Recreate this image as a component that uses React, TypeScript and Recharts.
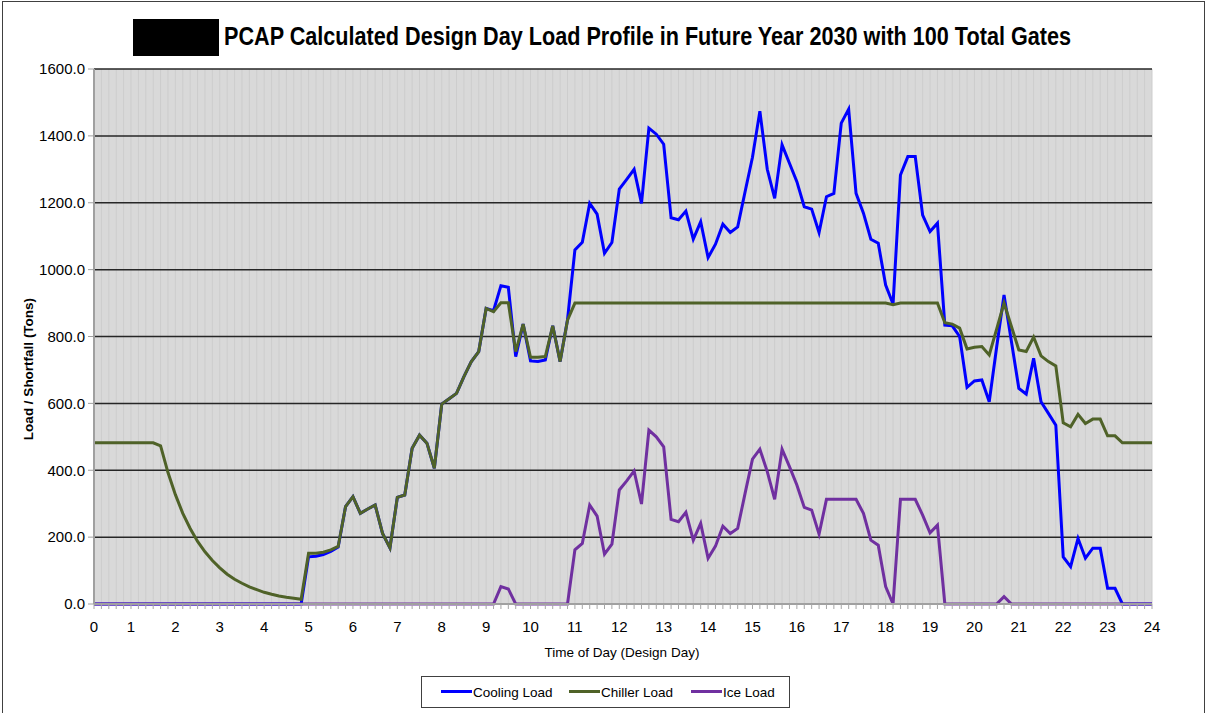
import { CartesianGrid, Line, LineChart, XAxis, YAxis } from "recharts";

// 10-minute steps across the design day (144 points)
const COOLING_LOAD = [
  0, 0, 0, 0, 0, 0,
  0, 0, 0, 0, 0, 0,
  0, 0, 0, 0, 0, 0,
  0, 0, 0, 0, 0, 0,
  0, 0, 0, 0, 0, 141,
  143, 148, 157, 170, 291, 321,
  271, 284, 296, 211, 168, 319,
  326, 466, 505, 481, 406, 598,
  614, 630, 680, 725, 755, 884,
  877, 952, 947, 740, 837, 727,
  725, 730, 832, 725, 850, 1059,
  1082, 1198, 1166, 1049, 1081, 1241,
  1270, 1300, 1198, 1423, 1405, 1375,
  1155, 1149, 1175, 1091, 1143, 1036,
  1076, 1136, 1111, 1128, 1233, 1336,
  1474, 1300, 1213, 1373, 1318, 1263,
  1188, 1181, 1111, 1218, 1228, 1438,
  1480, 1228, 1169, 1091, 1079, 954,
  897, 1283, 1338, 1338, 1163, 1114,
  1139, 834, 832, 800, 648, 667,
  670, 605, 768, 924, 785, 645,
  628, 735, 605, 570, 535, 141,
  112, 196, 137, 167, 167, 47,
  47, 0, 0, 0, 0, 0,
];

const CHILLER_LOAD = [
  482, 482, 482, 482, 482, 482,
  482, 482, 482, 473, 393, 327,
  271, 226, 187, 156, 130, 108,
  89, 74, 62, 51, 43, 35,
  29, 24, 20, 17, 14, 152,
  152, 155, 162, 172, 291, 321,
  271, 284, 296, 211, 168, 319,
  326, 466, 505, 481, 406, 598,
  614, 630, 680, 725, 755, 884,
  874, 901, 901, 755, 837, 738,
  738, 740, 832, 725, 849, 900,
  900, 900, 900, 900, 900, 900,
  900, 900, 900, 900, 900, 900,
  900, 900, 900, 900, 900, 900,
  900, 900, 900, 900, 900, 900,
  900, 900, 900, 900, 900, 900,
  900, 900, 900, 900, 900, 900,
  900, 900, 900, 900, 900, 900,
  895, 900, 900, 900, 900, 900,
  900, 841, 837, 825, 763, 768,
  770, 745, 822, 900, 830, 760,
  755, 798, 742, 725, 712, 542,
  530, 567, 540, 553, 553, 503,
  503, 482, 482, 482, 482, 482,
];

const ICE_LOAD = [
  0, 0, 0, 0, 0, 0,
  0, 0, 0, 0, 0, 0,
  0, 0, 0, 0, 0, 0,
  0, 0, 0, 0, 0, 0,
  0, 0, 0, 0, 0, 0,
  0, 0, 0, 0, 0, 0,
  0, 0, 0, 0, 0, 0,
  0, 0, 0, 0, 0, 0,
  0, 0, 0, 0, 0, 0,
  0, 52, 45, 0, 0, 0,
  0, 0, 0, 0, 0, 162,
  181, 296, 263, 149, 179, 341,
  368, 398, 299, 520, 500, 470,
  253, 246, 274, 191, 241, 137,
  173, 233, 211, 226, 331, 433,
  463, 396, 313, 463, 411, 356,
  289, 281, 209, 313, 313, 313,
  313, 313, 271, 191, 176, 52,
  0, 313, 313, 313, 266, 213,
  236, 0, 0, 0, 0, 0,
  0, 0, 0, 22, 0, 0,
  0, 0, 0, 0, 0, 0,
  0, 0, 0, 0, 0, 0,
  0, 0, 0, 0, 0, 0,
];

const HOUR_LABELS = [
  "0", "1", "2", "3", "4", "5", "6", "7", "8", "9", "10", "11", "12",
  "13", "14", "15", "16", "17", "18", "19", "20", "21", "22", "23", "24",
];
// step index where each hour label sits on the category axis
const HOUR_TICK_STEPS = [
  0, 5, 11, 17, 23, 29, 35, 41, 47, 53, 59, 65, 71,
  77, 83, 89, 95, 101, 107, 113, 119, 125, 131, 137, 143,
];
const Y_TICKS = [0, 200, 400, 600, 800, 1000, 1200, 1400, 1600];

const TEXT_FONT = "'Liberation Sans', Arial, sans-serif";
const TITLE_FONT = "'Liberation Sans Narrow', 'Liberation Sans', Arial, sans-serif";

const COOLING_COLOR = "#0000ff";
const CHILLER_COLOR = "#4f6228";
const ICE_COLOR = "#7030a0";

const data = COOLING_LOAD.map((c, i) => ({
  step: i,
  cooling: c,
  chiller: CHILLER_LOAD[i],
  ice: ICE_LOAD[i],
}));
const allSteps = data.map((d) => d.step);
const labelByStep = new Map(HOUR_TICK_STEPS.map((s, i) => [s, HOUR_LABELS[i]]));

function StepTick(props: any) {
  const { x, y, payload } = props;
  const label = labelByStep.get(payload.value);
  return (
    <g>
      <line x1={x} x2={x} y1={y} y2={y + 5} stroke="#a6a6a6" strokeWidth={1} />
      {label !== undefined && (
        <text
          x={x}
          y={y + 28}
          textAnchor="middle"
          fill="#000"
          fontSize={15}
          fontFamily={TEXT_FONT}
        >
          {label}
        </text>
      )}
    </g>
  );
}

function LegendItem({ x, color, label }: { x: number; color: string; label: string }) {
  return (
    <g>
      <line x1={x} x2={x + 31} y1={691.5} y2={691.5} stroke={color} strokeWidth={3} />
      <text x={x + 32} y={697} fontSize={13.5} fontFamily={TEXT_FONT} fill="#000">
        {label}
      </text>
    </g>
  );
}

export default function App() {
  return (
    <div
      style={{
        position: "absolute",
        left: 0,
        top: 0,
        width: 1207,
        height: 713,
        background: "#fff",
        overflow: "hidden",
      }}
    >
      <div style={{ position: "absolute", left: 0, top: 0 }}>
        <LineChart
          width={1207}
          height={640}
          data={data}
          margin={{ top: 69, right: 55, bottom: 6, left: 34 }}
        >
          <CartesianGrid
            horizontal={false}
            fill="#d9d9d9"
            fillOpacity={1}
            stroke="#cdcdcd"
            strokeWidth={1}
          />
          <CartesianGrid vertical={false} stroke="#262626" strokeWidth={1.5} />
          <XAxis
            type="number"
            dataKey="step"
            domain={[0, 143]}
            ticks={allSteps}
            interval={0}
            tick={StepTick}
            tickLine={false}
            tickSize={0}
            tickMargin={0}
            axisLine={{ stroke: "#a0a0a0", strokeWidth: 2 }}
            height={30}
          />
          <YAxis
            domain={[0, 1600]}
            ticks={Y_TICKS}
            interval={0}
            tickFormatter={(v: number) => v.toFixed(1)}
            tick={{ fill: "#000", fontSize: 15, fontFamily: TEXT_FONT }}
            tickLine={{ stroke: "#a0a0a0" }}
            axisLine={{ stroke: "#a0a0a0", strokeWidth: 2 }}
            tickSize={6}
            tickMargin={3}
            width={60}
          />
          <Line
            type="linear"
            dataKey="cooling"
            name="Cooling Load"
            stroke={COOLING_COLOR}
            strokeWidth={3}
            dot={false}
            activeDot={false}
            isAnimationActive={false}
          />
          <Line
            type="linear"
            dataKey="chiller"
            name="Chiller Load"
            stroke={CHILLER_COLOR}
            strokeWidth={3}
            dot={false}
            activeDot={false}
            isAnimationActive={false}
          />
          <Line
            type="linear"
            dataKey="ice"
            name="Ice Load"
            stroke={ICE_COLOR}
            strokeWidth={3}
            dot={false}
            activeDot={false}
            isAnimationActive={false}
          />
        </LineChart>
      </div>

      <svg
        width={1207}
        height={713}
        style={{ position: "absolute", left: 0, top: 0, pointerEvents: "none" }}
      >
        <rect x={2.5} y={1.5} width={1202} height={730} fill="none" stroke="#404040" />
        <rect x={133} y={19} width={86} height={37} fill="#000" />
        <text
          x={224}
          y={45}
          textLength={847}
          lengthAdjust="spacingAndGlyphs"
          fontSize={25}
          fontWeight="bold"
          fontFamily={TITLE_FONT}
          fill="#000"
        >
          PCAP Calculated Design Day Load Profile in Future Year 2030 with 100 Total Gates
        </text>
        <text
          transform="translate(33, 369) rotate(-90)"
          textAnchor="middle"
          fontSize={13.5}
          fontWeight="bold"
          fontFamily={TEXT_FONT}
          fill="#000"
        >
          Load / Shortfall (Tons)
        </text>
        <text
          x={622}
          y={657}
          textAnchor="middle"
          fontSize={13.5}
          fontFamily={TEXT_FONT}
          fill="#000"
        >
          Time of Day (Design Day)
        </text>
        <rect x={421.5} y={676.5} width={368} height={31} fill="#fff" stroke="#404040" />
        <LegendItem x={441} color={COOLING_COLOR} label="Cooling Load" />
        <LegendItem x={569} color={CHILLER_COLOR} label="Chiller Load" />
        <LegendItem x={691} color={ICE_COLOR} label="Ice Load" />
      </svg>
    </div>
  );
}
